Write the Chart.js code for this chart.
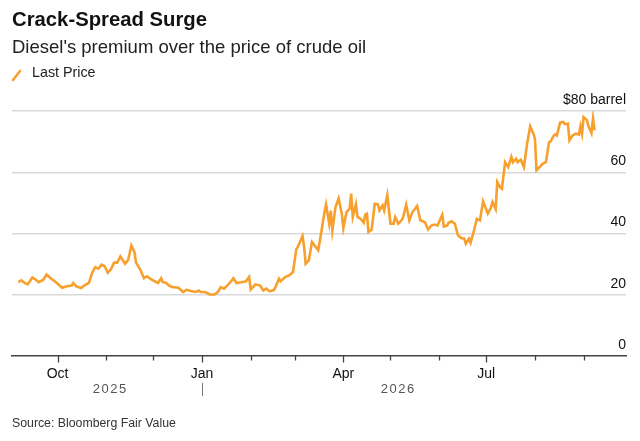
<!DOCTYPE html>
<html>
<head>
<meta charset="utf-8">
<script src="https://cdn.jsdelivr.net/npm/chart.js@4.4.1/dist/chart.umd.min.js"></script>
<style>
  html, body { margin: 0; padding: 0; background: #fff; }
  body { width: 640px; height: 441px; position: relative; overflow: hidden; font-family: "Liberation Sans", Arial, sans-serif; }
  #wrap { position: absolute; left: 0; top: 0; width: 640px; height: 441px; }
  .t { position: absolute; white-space: nowrap; color: #111; }
  #title { left: 12px; top: 8px; font-size: 20.3px; font-weight: bold; }
  #subtitle { left: 12px; top: 36px; font-size: 18.5px; color: #222; }
  #legend { left: 32px; top: 64px; font-size: 14.3px; color: #222; }
  #legicon { position: absolute; left: 11px; top: 68px; width: 12px; height: 14px; }
  #source { left: 12px; top: 416px; font-size: 12.3px; color: #333; }
</style>
</head>
<body>
<div id="wrap"><canvas id="c" width="640" height="441"></canvas></div>
<div class="t" id="title">Crack-Spread Surge</div>
<div class="t" id="subtitle">Diesel's premium over the price of crude oil</div>
<svg id="legicon" viewBox="0 0 12 14"><line x1="2" y1="12" x2="9" y2="3" stroke="#f7a02d" stroke-width="2.6" stroke-linecap="round"/></svg>
<div class="t" id="legend">Last Price</div>
<div class="t" id="source">Source: Bloomberg Fair Value</div>
<script>
// Days measured from 2026-01-01 (negative = 2025)
const dayOffsets = [
  -117,-115,-113,-111,-108,-106,-104,-101,-99,-96,-93,-89,-86,-83,-82,-80,-77,-75,-72,-70,
  -68,-66,-64,-62,-60,-58,-56,-54,-52,-49,-47,-45,-43,-42,-39,-37,-35,-32,-29,-28,
  -26,-25,-23,-21,-19,-15,-12,-10,-7,-4,-2,-1,2,5,8,10,12,14,16,19,
  20,22,25,28,30,31,34,37,39,41,43,46,49,50,53,56,58,60,61,64,
  65,66,68,70,72,74,76,78,79,81,82,83,85,87,89,90,92,94,95,96,
  98,99,101,103,104,105,106,108,110,112,113,115,116,118,120,122,123,125,127,128,
  130,132,134,137,139,142,144,146,148,150,153,154,156,157,159,161,163,165,167,168,
  170,171,173,175,177,179,182,184,185,187,188,190,191,193,195,197,198,200,201,203,
  205,207,209,211,212,213,215,217,219,221,222,224,225,226,228,230,231,233,234,236,
  238,240,241,242,243,245,246,248,249,250
];
const lastPrice = [
  24.1,24.7,23.9,23.4,25.6,25.0,24.1,24.9,26.6,25.2,24.1,22.3,22.8,23.0,23.8,22.7,22.2,23.0,23.9,27.1,
  29.0,28.5,29.8,29.3,27.2,28.3,30.5,30.5,32.5,30.1,31.4,36.1,33.9,30.5,27.9,25.4,26.0,24.9,24.1,23.9,
  25.4,24.1,23.9,23.0,22.5,22.3,20.9,21.6,21.2,20.9,21.4,20.9,20.9,20.1,20.1,20.9,22.5,22.0,23.0,24.7,
  25.4,23.8,24.1,24.4,25.8,21.7,23.4,23.0,21.4,22.0,21.1,21.6,25.2,24.4,25.8,26.5,27.5,34.8,35.6,39.2,
  35.6,30.1,31.2,37.2,35.9,34.5,40.5,47.0,49.5,43.2,47.5,41.0,48.6,51.4,46.5,41.8,47.0,48.1,53.0,45.4,
  49.5,45.4,44.8,43.5,46.2,46.5,40.5,41.2,49.7,49.5,47.5,49.2,47.5,52.5,43.2,43.2,45.4,43.2,44.3,45.2,
  49.4,44.3,47.0,49.0,44.3,43.7,41.3,42.6,42.9,42.6,46.1,42.3,42.6,43.5,44.0,43.2,39.4,38.5,38.3,36.7,
  38.3,37.0,40.5,44.8,44.3,50.5,46.5,48.5,50.3,48.0,56.8,55.0,54.6,63.3,61.7,65.0,63.3,64.4,63.3,64.1,
  61.7,69.3,75.0,72.6,71.0,60.6,61.7,62.8,63.3,69.8,70.1,72.0,72.4,72.0,76.2,76.4,75.7,75.9,70.4,72.0,
  72.6,72.3,75.0,72.6,78.0,77.1,75.2,72.8,77.6,73.7
];
// Month starts (days from 2026-01-01), Oct 2025 .. Sep 2026
const monthTickDays = [-92,-61,-31,0,31,59,90,120,151,181,212,243];
const monthTickLabels = ['Oct','','','Jan','','','Apr','','','Jul','',''];
const yTickValues = [0,20,40,60,80];
const yTickLabels = ['0','20','40','60','$80 barrel'];
const yearLabels = ['2025','2026'];

const xMin = -121, xMax = 270;
const lineColor = '#f7a02d';

const extras = {
  id: 'extras',
  afterDraw(chart) {
    const ctx = chart.ctx;
    const xs = chart.scales.x;
    const bottom = chart.chartArea.bottom;
    ctx.save();
    ctx.strokeStyle = '#444';
    ctx.lineWidth = 1.3;
    monthTickDays.forEach((d, i) => {
      const px = Math.round(xs.getPixelForValue(d)) + 0.5;
      const len = monthTickLabels[i] ? 6.5 : 4.5;
      ctx.beginPath();
      ctx.moveTo(px, bottom);
      ctx.lineTo(px, bottom + len);
      ctx.stroke();
    });
    ctx.fillStyle = '#555';
    ctx.font = '13px "Liberation Sans", Arial, sans-serif';
    ctx.textAlign = 'center';
    ctx.textBaseline = 'middle';
    if ('letterSpacing' in ctx) ctx.letterSpacing = '1.5px';
    const first = dayOffsets[0], last = dayOffsets[dayOffsets.length - 1];
    const p0 = xs.getPixelForValue(first), pj = xs.getPixelForValue(0), p1 = xs.getPixelForValue(last);
    ctx.fillText(yearLabels[0], (p0 + pj) / 2, 389);
    ctx.fillText(yearLabels[1], (pj + p1) / 2, 389);
    ctx.strokeStyle = '#777';
    ctx.lineWidth = 1;
    ctx.beginPath();
    ctx.moveTo(Math.round(pj) + 0.5, 383);
    ctx.lineTo(Math.round(pj) + 0.5, 396);
    ctx.stroke();
    ctx.restore();
  }
};

new Chart(document.getElementById('c'), {
  type: 'line',
  data: {
    datasets: [{
      label: 'Last Price',
      data: dayOffsets.map((d, i) => ({ x: d, y: lastPrice[i] })),
      borderColor: lineColor,
      borderWidth: 2.6,
      pointRadius: 0,
      tension: 0,
      fill: false
    }]
  },
  options: {
    responsive: false,
    animation: false,
    devicePixelRatio: 1,
    layout: { padding: { left: 12, right: 14, top: 111, bottom: 0 } },
    plugins: { legend: { display: false }, tooltip: { enabled: false }, title: { display: false } },
    scales: {
      x: {
        type: 'linear',
        min: xMin, max: xMax,
        afterBuildTicks: (scale) => { scale.ticks = monthTickDays.map(v => ({ value: v })); },
        afterFit: (scale) => { scale.height = 85; },
        grid: { drawOnChartArea: false, drawTicks: false },
        border: { display: true, color: '#444', width: 1.5 },
        ticks: {
          autoSkip: false, maxRotation: 0, padding: 10,
          color: '#111',
          font: { family: '"Liberation Sans", Arial, sans-serif', size: 14 },
          callback: (v, i) => monthTickLabels[i]
        }
      },
      y: {
        type: 'linear',
        position: 'right',
        min: 0, max: 80,
        afterBuildTicks: (scale) => { scale.ticks = yTickValues.map(v => ({ value: v })); },
        afterFit: (scale) => { scale.width = 0; },
        grid: {
          drawTicks: false,
          color: (c) => (c.tick && c.tick.value === 0) ? 'rgba(0,0,0,0)' : '#d9d9d9',
          lineWidth: 1.5
        },
        border: { display: false },
        ticks: {
          mirror: true, padding: 0, labelOffset: -11,
          color: '#111',
          font: { family: '"Liberation Sans", Arial, sans-serif', size: 14 },
          callback: (v, i) => yTickLabels[i]
        }
      }
    }
  },
  plugins: [extras]
});
</script>
</body>
</html>
